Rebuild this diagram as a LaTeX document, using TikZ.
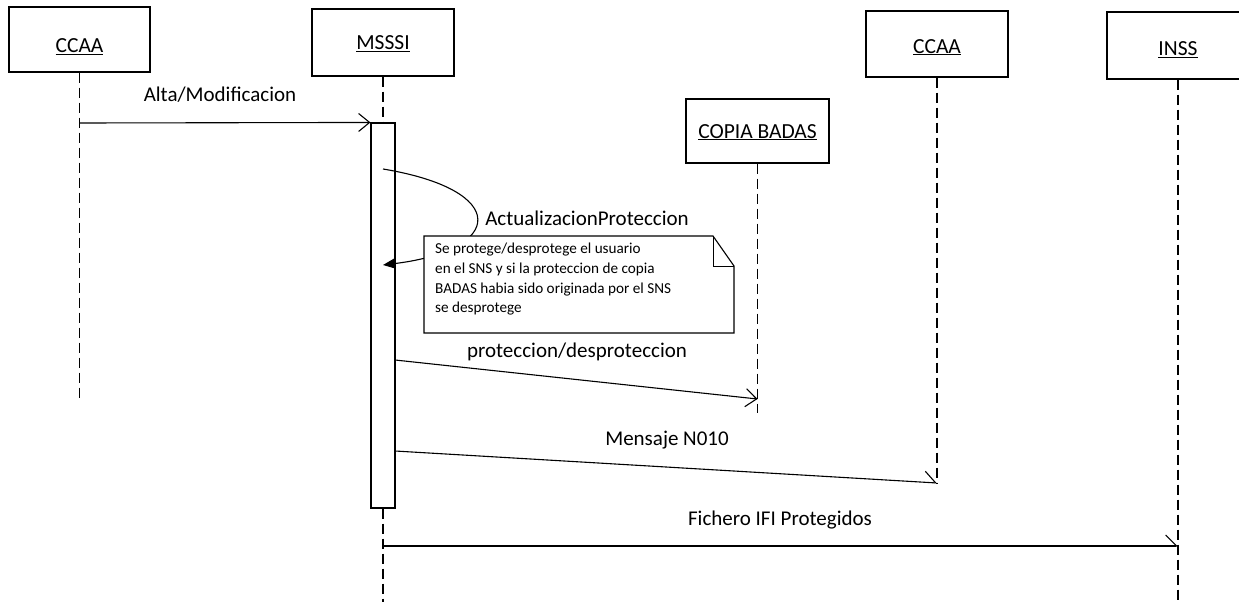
\documentclass[tikz,border=0pt]{standalone}
\usepackage{fontspec}
\setmainfont{Carlito}
\usetikzlibrary{arrows.meta,calc}
\begin{document}
\begin{tikzpicture}[x=1pt,y=-1pt,
  actor/.style={draw, line width=1.3pt, minimum width=142pt, minimum height=66pt, inner sep=0pt,
    text height=17pt, text depth=3pt, font=\fontsize{21.5}{25}\selectfont},
  life/.style={line width=1.4pt, dash pattern=on 10pt off 5pt},
  msg/.style={line width=1.1pt, -{Straight Barb[length=11pt,width=18pt,line width=1.1pt]}},
  amsg/.style={line width=1.1pt, -{Straight Barb[harpoon,length=11pt,width=22pt,line width=1.1pt]}},
  lbl/.style={font=\fontsize{21}{25}\selectfont, inner sep=0pt},
  notetext/.style={font=\fontsize{15.2}{19.7}\selectfont, inner sep=0pt, align=left},
]
\useasboundingbox (0,0) rectangle (1239,602);

% actors
\node[actor, minimum width=141pt, minimum height=65pt, text height=29.5pt] (ccaa1) at (79.5,39.5) {\underline{CCAA}};
\node[actor, minimum height=67pt] (msssi) at (383,42.5) {\underline{MSSSI}};
\node[actor, text height=21pt] (ccaa2) at (937,44) {\underline{CCAA}};
\node[actor, minimum height=67pt, text height=23pt] (inss) at (1178,45.5) {\underline{INSS}};
\node[actor, minimum width=143pt, minimum height=64pt] (copia) at (757.5,131) {\underline{COPIA BADAS}};

% activation
\node[draw, line width=1.1pt, fill=white, minimum width=24pt, minimum height=385pt, inner sep=0pt] (act) at (383,315.5) {};

% lifeline end points
\coordinate (ccaa1end) at (79.5,398);
\coordinate (msssiend) at (383,602);
\coordinate (copiaend) at (757.5,413);
\coordinate (inssend) at (1178,602);

% message end points
\coordinate (a1) at (79.5,123);
\coordinate (sm1) at (383,169);
\coordinate (sm2) at (383,265);
\coordinate (p1) at (395,360);
\coordinate (p2) at (757.5,399);
\coordinate (m1) at (395,451);
\coordinate (m2) at (937,483);
\coordinate (f1) at (383,546);
\coordinate (f2) at (1178,546);

% lifelines
\draw[life] (ccaa1.south) -- (ccaa1end);
\draw[life] (msssi.south) -- (act.north);
\draw[life] (act.south) -- (msssiend);
\draw[life] (copia.south) -- (copiaend);
\draw[life] (ccaa2.south) -- (m2);
\draw[life] (inss.south) -- (inssend);

% messages
\draw[msg] (a1) -- (act.north west);
\node[lbl] (lalta) at (220,95) {Alta/Modificacion};

\draw[line width=1.1pt, -{Triangle[length=12pt,width=10pt]}] (sm1) .. controls (510,190) and (505,250) .. (sm2);
\node[lbl] (lact) at (587,218) {ActualizacionProteccion};

% note
\coordinate (n1) at (424,236);
\coordinate (n2) at (713,236);
\coordinate (n3) at (734,266);
\coordinate (n4) at (734,333);
\coordinate (n5) at (424,333);
\draw[line width=1.1pt, fill=white] (n1) -- (n2) -- (n3) -- (n4) -- (n5) -- cycle;
\draw[line width=0.8pt] (n2) -- (n2 |- n3) -- (n3);
\node[notetext, anchor=north west] (notetxt) at (435,243) {Se protege/desprotege el usuario\\en el SNS y si la proteccion de copia\\BADAS habia sido originada por el SNS\\se desprotege};

\draw[msg] (p1) -- (p2);
\node[lbl] (lprot) at (577,352) {proteccion/desproteccion};

\draw[amsg] (m1) -- (m2);
\node[lbl] (lmens) at (667,440) {Mensaje N010};

\draw[amsg] (f1) -- (f2);
\node[lbl] (lfich) at (780,520) {Fichero IFI Protegidos};
\end{tikzpicture}
\end{document}
